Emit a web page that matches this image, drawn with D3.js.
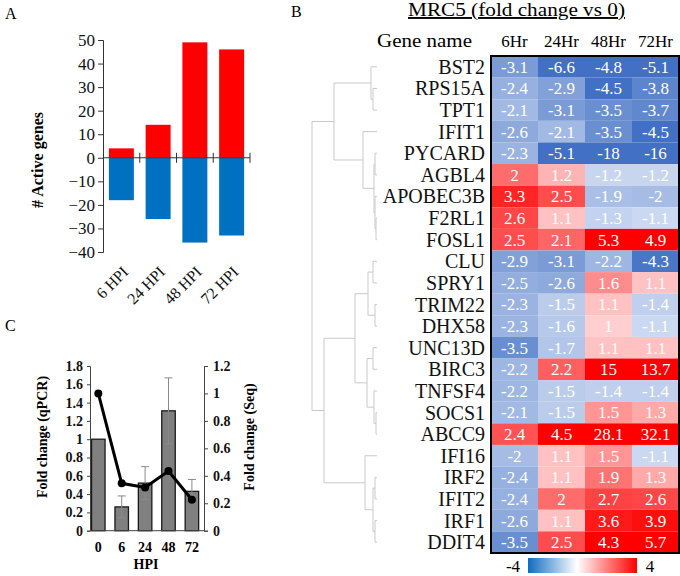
<!DOCTYPE html>
<html><head><meta charset="utf-8">
<script src="https://cdn.jsdelivr.net/npm/d3@7"></script>
<style>
html,body{margin:0;padding:0;background:#fff;}
svg{display:block;font-family:"Liberation Serif","Times New Roman",serif;}
</style></head>
<body><svg id="c" width="680" height="576"></svg>
<script>
// ---------- Panel A data ----------
const aCats = ["6 HPI", "24 HPI", "48 HPI", "72 HPI"];
const aUp = [4, 14, 49, 46];
const aDown = [-18, -26, -36, -33];
const aTicks = [50, 40, 30, 20, 10, 0, -10, -20, -30, -40];

// ---------- Panel B data ----------
const bCols = ["6Hr", "24Hr", "48Hr", "72Hr"];
const genes = ["BST2","RPS15A","TPT1","IFIT1","PYCARD","AGBL4","APOBEC3B","F2RL1","FOSL1","CLU","SPRY1","TRIM22","DHX58","UNC13D","BIRC3","TNFSF4","SOCS1","ABCC9","IFI16","IRF2","IFIT2","IRF1","DDIT4"];
const fc6 = [-3.1,-2.4,-2.1,-2.6,-2.3,2,3.3,2.6,2.5,-2.9,-2.5,-2.3,-2.3,-3.5,-2.2,-2.2,-2.1,2.4,-2,-2.4,-2.4,-2.6,-3.5];
const fc24 = [-6.6,-2.9,-3.1,-2.1,-5.1,1.2,2.5,1.1,2.1,-3.1,-2.6,-1.5,-1.6,-1.7,2.2,-1.5,-1.5,4.5,1.1,1.1,2,1.1,2.5];
const fc48 = [-4.8,-4.5,-3.5,-3.5,-18,-1.2,-1.9,-1.3,5.3,-2.2,1.6,1.1,1,1.1,15,-1.4,1.5,28.1,1.5,1.9,2.7,3.6,4.3];
const fc72 = [-5.1,-3.8,-3.7,-4.5,-16,-1.2,-2,-1.1,4.9,-4.3,1.1,-1.4,-1.1,1.1,13.7,-1.4,1.3,32.1,-1.1,1.3,2.6,3.9,5.7];
// dendrogram: [merge height, left, right]
const dendro = [65,
  [43, [6, "BST2", [4, "RPS15A", "TPT1"]],
       [14, "IFIT1", [3, [2, "PYCARD", "AGBL4"], [2, "APOBEC3B", [1, "F2RL1", "FOSL1"]]]]],
  [53, [22, [9, [4, "CLU", "SPRY1"], [2, "TRIM22", "DHX58"]],
            [10, [4, "UNC13D", "BIRC3"], [3, "TNFSF4", [1, "SOCS1", "ABCC9"]]]],
       [12, "IFI16", [4, [2, "IRF2", "IFIT2"], [2, "IRF1", "DDIT4"]]]]];
const legendTicks = [-4, 4];

// ---------- Panel C data ----------
const cCats = ["0", "6", "24", "48", "72"];
const qpcr = [1.0, 0.26, 0.52, 1.31, 0.43];
const qpcrErr = [0, 0.12, 0.18, 0.36, 0.13];
const seq = [1.0, 0.345, 0.315, 0.435, 0.225];
const cLeftTicks = [0, 0.2, 0.4, 0.6, 0.8, 1, 1.2, 1.4, 1.6, 1.8];
const cRightTicks = [0, 0.2, 0.4, 0.6, 0.8, 1, 1.2];

const svg = d3.select("#c");

// panel letters
svg.append("text").attr("x", 5).attr("y", 19).attr("font-size", 16).text("A");
svg.append("text").attr("x", 291).attr("y", 17).attr("font-size", 16).text("B");
svg.append("text").attr("x", 5).attr("y", 331).attr("font-size", 16).text("C");

// ================= Panel A =================
{
  const x = d3.scaleBand().domain(aCats).range([103, 250]).paddingInner(0.32).paddingOuter(0.16);
  const y = d3.scaleLinear().domain([-40, 50]).range([252, 40]);
  const g = svg.append("g");
  g.selectAll(".up").data(aCats).join("rect")
    .attr("x", d => x(d)).attr("width", x.bandwidth())
    .attr("y", (d, i) => y(aUp[i])).attr("height", (d, i) => y(0) - y(aUp[i]))
    .attr("fill", "#ff0000");
  g.selectAll(".dn").data(aCats).join("rect")
    .attr("x", d => x(d)).attr("width", x.bandwidth())
    .attr("y", y(0)).attr("height", (d, i) => y(aDown[i]) - y(0))
    .attr("fill", "#0070c0");
  const ya = g.append("g").attr("transform", "translate(103,0)")
    .call(d3.axisLeft(y).tickValues(aTicks).tickSize(5).tickPadding(3));
  ya.select(".domain").attr("stroke", "#333");
  ya.selectAll(".tick line").attr("stroke", "#333");
  ya.selectAll("text").attr("font-size", 17).attr("font-family", "Liberation Serif").attr("fill", "#111");
  // x axis at zero
  g.append("line").attr("x1", 103).attr("x2", 250).attr("y1", y(0)).attr("y2", y(0)).attr("stroke", "#333");
  const step = x.step();
  aCats.forEach((c, i) => {
    const bx = 103 + step * (i + 1);
    g.append("line").attr("x1", bx).attr("x2", bx).attr("y1", y(0) - 5).attr("y2", y(0) + 5).attr("stroke", "#333");
    g.append("text").attr("transform", `translate(${x(c) + x.bandwidth() / 2 + 8},273) rotate(-45)`)
      .attr("text-anchor", "end").attr("font-size", 16).attr("fill", "#111").text(c);
  });
  g.append("text").attr("transform", `translate(43,${(40 + 252) / 2 + 14}) rotate(-90)`)
    .attr("text-anchor", "middle").attr("font-size", 16).attr("font-weight", "bold").text("# Active genes");
}

// ================= Panel B =================
{
  const x = d3.scaleBand().domain(bCols).range([491, 679]);
  const y = d3.scaleBand().domain(genes).range([56, 553]);
  const blue = d3.scaleLinear().domain([-4.5, -1]).range(["#4170c4", "#cfdbf2"]).clamp(true);
  const red = d3.scaleLog().domain([1, 4.3]).range(["#ffcece", "#ff0000"]).clamp(true);
  const col = v => v < 0 ? blue(v) : red(v);
  const cols = [fc6, fc24, fc48, fc72];
  const g = svg.append("g");
  // title
  g.append("text").attr("x", 408).attr("y", 16).attr("font-size", 19)
    .attr("textLength", 217).attr("lengthAdjust", "spacingAndGlyphs")
    .attr("text-decoration", "underline").text("MRC5 (fold change vs 0)");
  g.append("text").attr("x", 377).attr("y", 47).attr("font-size", 18)
    .attr("textLength", 95).attr("lengthAdjust", "spacingAndGlyphs").text("Gene name");
  g.selectAll(".ch").data(bCols).join("text")
    .attr("x", d => x(d) + x.bandwidth() / 2).attr("y", 47).attr("text-anchor", "middle")
    .attr("font-size", 17).text(d => d);
  cols.forEach((arr, ci) => {
    g.selectAll(".c" + ci).data(genes).join("rect")
      .attr("x", x(bCols[ci])).attr("width", x.bandwidth())
      .attr("y", d => y(d)).attr("height", y.bandwidth())
      .attr("fill", (d, i) => col(arr[i]));
    g.selectAll(".t" + ci).data(genes).join("text")
      .attr("x", x(bCols[ci]) + x.bandwidth() / 2).attr("y", d => y(d) + y.bandwidth() / 2)
      .attr("dy", "0.35em").attr("text-anchor", "middle").attr("font-size", 17).attr("fill", "#fff")
      .text((d, i) => arr[i]);
  });
  g.append("rect").attr("x", 491).attr("y", 56).attr("width", 188).attr("height", 497)
    .attr("fill", "none").attr("stroke", "#000").attr("stroke-width", 2);
  g.selectAll(".gn").data(genes).join("text")
    .attr("x", 485).attr("y", d => y(d) + y.bandwidth() / 2).attr("dy", "0.35em")
    .attr("text-anchor", "end").attr("font-size", 20).attr("fill", "#111").text(d => d);

  // dendrogram
  const root = d3.hierarchy(dendro, d => Array.isArray(d) ? d.slice(1) : null);
  const xd = d3.scaleLinear().domain([0, 65]).range([377, 312]);
  root.eachAfter(n => {
    if (!n.children) { n.py = y(n.data) + y.bandwidth() / 2; n.px = xd(0); }
    else { n.py = (n.children[0].py + n.children[n.children.length - 1].py) / 2; n.px = xd(n.data[0]); }
  });
  const dg = g.insert("g", ":first-child").attr("stroke", "#c9c9c9").attr("fill", "none").attr("stroke-width", 1);
  root.each(n => {
    if (!n.children) return;
    const c0 = n.children[0], c1 = n.children[n.children.length - 1];
    dg.append("path").attr("d", `M${c0.px},${c0.py}H${n.px}V${c1.py}H${c1.px}`);
  });

  // colour legend
  const defs = svg.append("defs");
  const grad = defs.append("linearGradient").attr("id", "lg");
  [["0%", "#0f6cbf"], ["45%", "#ffffff"], ["100%", "#ff0000"]].forEach(s =>
    grad.append("stop").attr("offset", s[0]).attr("stop-color", s[1]));
  const lx = d3.scaleLinear().domain([-4, 4]).range([528, 637]);
  g.append("rect").attr("x", lx(-4)).attr("y", 558).attr("width", lx(4) - lx(-4)).attr("height", 15).attr("fill", "url(#lg)");
  g.selectAll(".lt").data(legendTicks).join("text")
    .attr("x", d => d < 0 ? lx(d) - 15 : lx(d) + 13).attr("y", 572).attr("text-anchor", "middle")
    .attr("font-size", 17).text(d => d);
}

// ================= Panel C =================
{
  const x = d3.scalePoint().domain(cCats).range([86.6, 203.6]).padding(0.5);
  const yl = d3.scaleLinear().domain([0, 1.8]).range([530.7, 366]);
  const yr = d3.scaleLinear().domain([0, 1.2]).range([530.7, 366]);
  const g = svg.append("g");
  const bw = 13.5;
  g.selectAll(".bar").data(cCats).join("rect")
    .attr("x", d => x(d) - bw / 2).attr("width", bw)
    .attr("y", (d, i) => yl(qpcr[i])).attr("height", (d, i) => yl(0) - yl(qpcr[i]))
    .attr("fill", "#808080").attr("stroke", "#1a1a1a").attr("stroke-width", 1.3);
  cCats.forEach((c, i) => {
    if (!qpcrErr[i]) return;
    const cx = x(c), hi = yl(qpcr[i] + qpcrErr[i]), lo = yl(qpcr[i] - qpcrErr[i]);
    g.append("path").attr("d", `M${cx},${lo}V${hi}M${cx - 4},${hi}H${cx + 4}M${cx - 4},${lo}H${cx + 4}`)
      .attr("stroke", "#8a8a8a").attr("fill", "none");
  });
  const la = g.append("g").attr("transform", "translate(90,0)")
    .call(d3.axisLeft(yl).tickValues(cLeftTicks).tickSize(3).tickPadding(4).tickFormat(d => String(+d.toFixed(1))));
  const ra = g.append("g").attr("transform", "translate(204,0)")
    .call(d3.axisRight(yr).tickValues(cRightTicks).tickSize(4).tickPadding(5).tickFormat(d => String(+d.toFixed(1))));
  [la, ra].forEach(a => {
    a.select(".domain").attr("stroke", "#444");
    a.selectAll(".tick line").attr("stroke", "#444");
    a.selectAll("text").attr("font-size", 14).attr("font-weight", "bold").attr("font-family", "Liberation Serif").attr("fill", "#111");
  });
  g.append("line").attr("x1", 90).attr("x2", 204).attr("y1", yl(0)).attr("y2", yl(0)).attr("stroke", "#444");
  g.selectAll(".xl").data(cCats).join("text")
    .attr("x", d => x(d)).attr("y", 552).attr("text-anchor", "middle")
    .attr("font-size", 14).attr("font-weight", "bold").text(d => d);
  const line = d3.line().x((d, i) => x(cCats[i])).y(d => yr(d));
  g.append("path").datum(seq).attr("d", line).attr("fill", "none").attr("stroke", "#000").attr("stroke-width", 3);
  g.selectAll(".pt").data(seq).join("circle")
    .attr("cx", (d, i) => x(cCats[i])).attr("cy", d => yr(d)).attr("r", 4).attr("fill", "#000");
  g.append("text").attr("x", 146).attr("y", 569).attr("text-anchor", "middle")
    .attr("font-size", 14).attr("font-weight", "bold").text("HPI");
  g.append("text").attr("transform", "translate(47,437) rotate(-90)").attr("text-anchor", "middle")
    .attr("font-size", 14).attr("font-weight", "bold").text("Fold change (qPCR)");
  g.append("text").attr("transform", "translate(254,437) rotate(-90)").attr("text-anchor", "middle")
    .attr("font-size", 14).attr("font-weight", "bold").text("Fold change (Seq)");
}
</script></body></html>
